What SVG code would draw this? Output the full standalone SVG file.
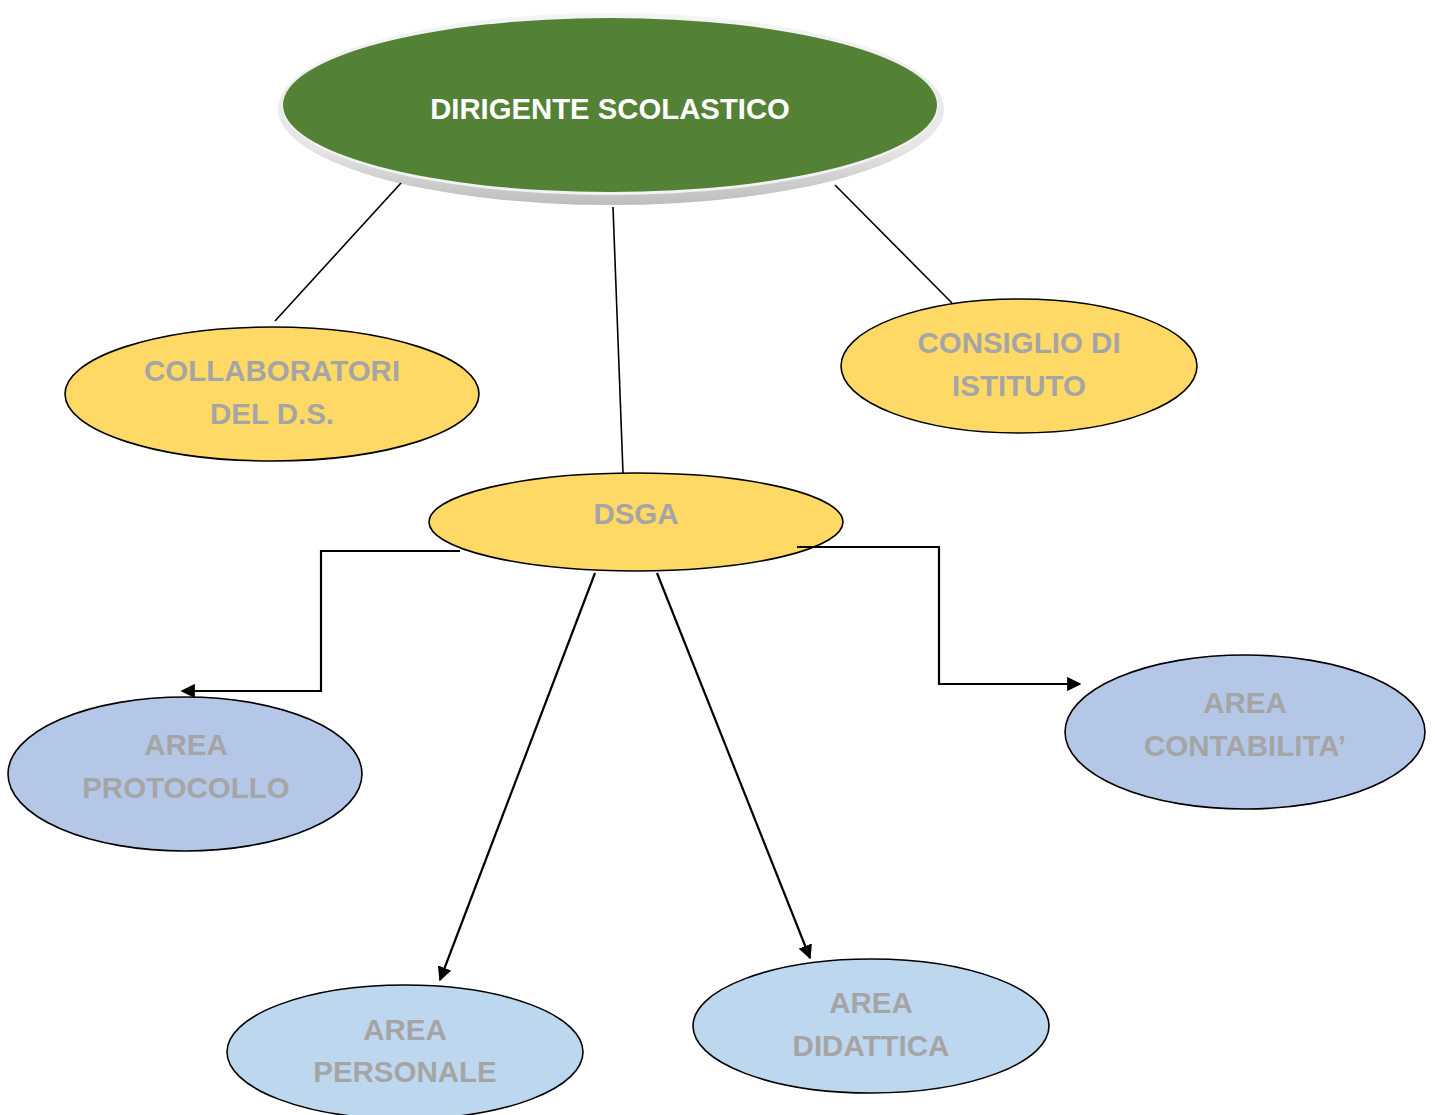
<svg xmlns="http://www.w3.org/2000/svg" width="1435" height="1115" viewBox="0 0 1435 1115">
<defs>
<style>
.lbl{font-family:"Liberation Sans",Arial,sans-serif;font-weight:bold;font-size:29.5px;fill:#A5A5A5;text-anchor:middle}
.main{font-family:"Liberation Sans",Arial,sans-serif;font-weight:bold;font-size:29.3px;fill:#FFFFFF;text-anchor:middle}
.node{stroke:#000;stroke-width:1.6}
.yel{fill:#FFD966}
.blu{fill:#B4C7E7}
.lblu{fill:#BDD7EE}
.ln{stroke:#000;stroke-width:1.6;fill:none}
.ar{stroke:#000;stroke-width:2.2;fill:none;marker-end:url(#arr)}
</style>
<marker id="arr" viewBox="0 0 10 10" refX="9" refY="5" markerWidth="6.5" markerHeight="6.5" orient="auto" markerUnits="strokeWidth">
<path d="M0,0 L10,5 L0,10 z" fill="#000"/>
</marker>
<linearGradient id="rim" x1="0" y1="0" x2="0" y2="1">
<stop offset="0" stop-color="#F4F4F4"/>
<stop offset="0.7" stop-color="#E6E6E6"/>
<stop offset="1" stop-color="#BDBDBD"/>
</linearGradient>
</defs>
<rect width="1435" height="1115" fill="#FFFFFF"/>
<g id="dirigente">
<ellipse cx="611" cy="109" rx="333" ry="96" fill="url(#rim)"/>
<ellipse cx="610" cy="106" rx="328" ry="89" fill="#F2F2F2"/>
<ellipse cx="610" cy="105" rx="327" ry="87" fill="#538135"/>
<text class="main" x="610" y="119">DIRIGENTE SCOLASTICO</text>
</g>
<g id="collaboratori">
<ellipse class="node yel" cx="272" cy="394" rx="207" ry="67"/>
<text class="lbl" x="272" y="381">COLLABORATORI</text>
<text class="lbl" x="272" y="424">DEL D.S.</text>
</g>
<g id="consiglio">
<ellipse class="node yel" cx="1019" cy="366" rx="178" ry="67"/>
<text class="lbl" x="1019" y="353">CONSIGLIO DI</text>
<text class="lbl" x="1019" y="396">ISTITUTO</text>
</g>
<g id="dsga">
<ellipse class="node yel" cx="636" cy="522" rx="207" ry="49"/>
<text class="lbl" x="636" y="524">DSGA</text>
</g>
<g id="protocollo">
<ellipse class="node blu" cx="185" cy="774" rx="177" ry="77"/>
<text class="lbl" x="186" y="755">AREA</text>
<text class="lbl" x="186" y="798">PROTOCOLLO</text>
</g>
<g id="contabilita">
<ellipse class="node blu" cx="1245" cy="732" rx="180" ry="77"/>
<text class="lbl" x="1245" y="713">AREA</text>
<text class="lbl" x="1245" y="756">CONTABILITA’</text>
</g>
<g id="personale">
<ellipse class="node lblu" cx="405" cy="1052" rx="178" ry="67"/>
<text class="lbl" x="405" y="1040">AREA</text>
<text class="lbl" x="405" y="1082">PERSONALE</text>
</g>
<g id="didattica">
<ellipse class="node lblu" cx="871" cy="1026" rx="178" ry="67"/>
<text class="lbl" x="871" y="1013">AREA</text>
<text class="lbl" x="871" y="1056">DIDATTICA</text>
</g>
<g id="connectors">
<line class="ln" x1="401" y1="183" x2="275" y2="321"/>
<line class="ln" x1="613" y1="207" x2="623" y2="473"/>
<line class="ln" x1="835" y1="185" x2="952" y2="303"/>
<polyline class="ar" points="460,551 321,551 321,691 182,691"/>
<polyline class="ar" points="797,547 939,547 939,684 1080,684"/>
<line class="ar" x1="595" y1="573" x2="440" y2="980"/>
<line class="ar" x1="657" y1="573" x2="810" y2="958"/>
</g>
</svg>
